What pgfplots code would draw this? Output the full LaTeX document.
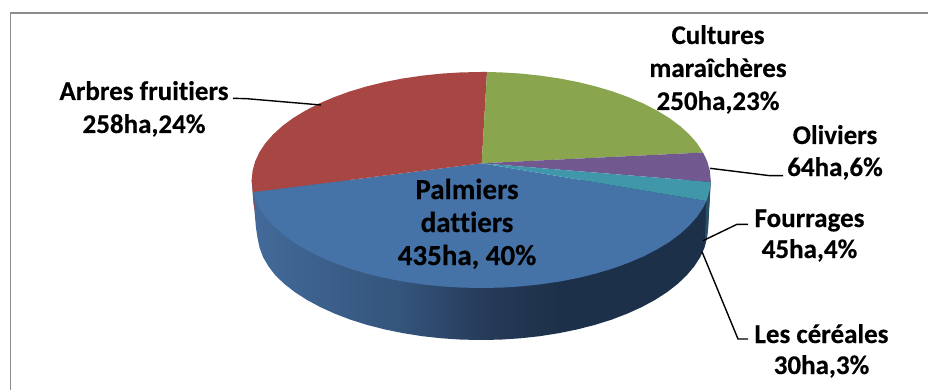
\documentclass[border=0pt]{standalone}
\usepackage{pgfplots}
\pgfplotsset{compat=1.18}
\usepackage{fontspec}
\setmainfont{Carlito}[BoldFont={Carlito Bold},BoldFeatures={FakeBold=0.35},Ligatures=NoCommon]
\definecolor{palmiers}{HTML}{4572A7}
\definecolor{arbres}{HTML}{A84643}
\definecolor{cultures}{HTML}{89A54E}
\definecolor{oliviers}{HTML}{71588F}
\definecolor{fourrages}{HTML}{3F97A9}
\definecolor{cadre}{HTML}{8C8C8C}
\definecolor{flancA}{HTML}{436A9A}
\definecolor{flancB}{HTML}{34557C}
\definecolor{flancC}{HTML}{263C5A}
\definecolor{flancD}{HTML}{1D3049}
\pgfdeclarehorizontalshading{flanc}{100bp}{
  color(0bp)=(flancA); color(25bp)=(flancA); color(41bp)=(flancB);
  color(50bp)=(flancC); color(58.5bp)=(flancD); color(100bp)=(flancD)}
\newcommand{\etiquette}[4][27]{\node[anchor=base,font=\fontsize{#1}{#1}\selectfont\bfseries,text=black,inner sep=0pt] at (axis cs:#2,#3) {#4};}
\begin{document}
\begin{tikzpicture}
\begin{axis}[
  at={(0,0)}, anchor=south west,
  scale only axis, width=928pt, height=390pt,
  xmin=0, xmax=928, ymin=0, ymax=390, y dir=reverse,
  hide axis, clip=true]

% fond et cadre
\addplot[fill=white, draw=none] coordinates {(0,0) (928,0) (928,390) (0,390)} --cycle;
\addplot[cadre, line width=1.8pt] coordinates {(10.5,390) (10.5,13) (928,13)};

% flanc du disque
\addplot[draw=none, shading=flanc] coordinates {
 (710.7,180) (708,228) (707.1,237.8) (704.6,247.4) (700.3,257) (694.3,266.3) (686.7,275.3)
 (677.6,284) (667,292.2) (654.9,300) (641.5,307.2) (626.9,313.8) (611.2,319.8) (594.5,325)
 (576.9,329.5) (558.6,333.2) (539.7,336.2) (520.4,338.3) (500.8,339.6) (481,340)
 (461.2,339.6) (441.6,338.3) (422.3,336.2) (403.4,333.2) (385.1,329.5) (367.5,325)
 (350.8,319.8) (335.1,313.8) (320.5,307.2) (307.1,300) (295,292.2) (284.4,284) (275.3,275.3)
 (268.5,266.3) (263,257) (259.5,247.4) (257.5,237.8) (256,228) (251.7,180)} --cycle;

% flancs visibles des autres secteurs
\addplot[fill=arbres!85!flancA, draw=none] coordinates {(251.7,180) (253.4,192) (255.5,214) (253.5,204)} --cycle;
\addplot[fill=fourrages!30!flancD, draw=none] coordinates {(710.7,182) (706.4,201) (704.6,247) (708,230)} --cycle;

% secteurs : Palmiers dattiers 435
\addplot[fill=palmiers, draw=none] coordinates {
 (481.7,163.3) (706.4,201) (702.9,208) (696.9,216.9) (689.2,225.6) (680,234) (669.2,242)
 (657,249.4) (643.5,256.4) (628.7,262.7) (612.8,268.5) (596,273.5) (578.2,277.9) (559.7,281.5)
 (540.6,284.3) (521,286.4) (501.2,287.6) (481.2,288) (461.2,287.6) (441.4,286.4) (421.8,284.3)
 (402.7,281.5) (384.2,277.9) (366.4,273.5) (349.6,268.5) (333.7,262.7) (318.9,256.4)
 (305.4,249.4) (293.2,242) (282.4,234) (273.2,225.6) (265.5,216.9) (259.5,208) (255.2,198.7)
 (253.4,192)} --cycle;
% Arbres fruitiers 258
\addplot[fill=arbres, draw=none] coordinates {
 (481.7,163.3) (253.4,192) (251.7,180) (252.6,170.6) (255.2,161.3) (259.5,152) (265.5,143.1)
 (273.2,134.4) (282.4,126) (293.2,118) (305.4,110.6) (318.9,103.6) (333.7,97.3) (349.6,91.5)
 (366.4,86.5) (384.2,82.1) (402.7,78.5) (421.8,75.7) (441.4,73.6) (461.2,72.4) (481.2,72)
 (487,72)} --cycle;
% Cultures maraicheres 250
\addplot[fill=cultures, draw=none] coordinates {
 (481.7,163.3) (487,72) (501.2,72.4) (521,73.6) (540.6,75.7) (559.7,78.5) (578.2,82.1)
 (596,86.5) (612.8,91.5) (628.7,97.3) (643.5,103.6) (657,110.6) (669.2,118) (680,126)
 (689.2,134.4) (696.9,143.1) (703,152.5)} --cycle;
% Oliviers 64
\addplot[fill=oliviers, draw=none] coordinates {
 (481.7,163.3) (703,152.5) (707.2,161.3) (709.8,170.6) (710.7,180) (710.7,182)} --cycle;
% Fourrages 45
\addplot[fill=fourrages, draw=none] coordinates {
 (481.7,163.3) (710.7,182) (709.8,189.4) (707.2,198.7) (706.4,201)} --cycle;

% traits de rappel
\addplot[black, line width=1.4pt] coordinates {(233,98.3) (247,98.7) (321,105)};
\addplot[black, line width=1.4pt] coordinates {(710,168.3) (770,175.7) (783,175.7)};
\addplot[black, line width=1.4pt] coordinates {(703,240.7) (737,224.3) (748,224.3)};
\addplot[black, line width=1.4pt] coordinates {(702,251.7) (738,339) (748,339)};

% etiquettes
\etiquette{144}{100}{Arbres fruitiers}
\etiquette{144}{133}{258ha,24\%}
\etiquette{718}{44}{Cultures}
\etiquette{718}{77}{maraîchères}
\etiquette{718}{110}{250ha,23\%}
\etiquette{835}{144}{Oliviers}
\etiquette{835}{176}{64ha,6\%}
\etiquette{809.5}{227}{Fourrages}
\etiquette{809.5}{258}{45ha,4\%}
\etiquette{821.5}{343}{Les céréales}
\etiquette{821.5}{374}{30ha,3\%}
\etiquette[29]{467}{199}{Palmiers}
\etiquette[29]{467}{232}{dattiers}
\etiquette[29]{467}{265}{435ha, 40\%}
\end{axis}
\end{tikzpicture}
\end{document}
